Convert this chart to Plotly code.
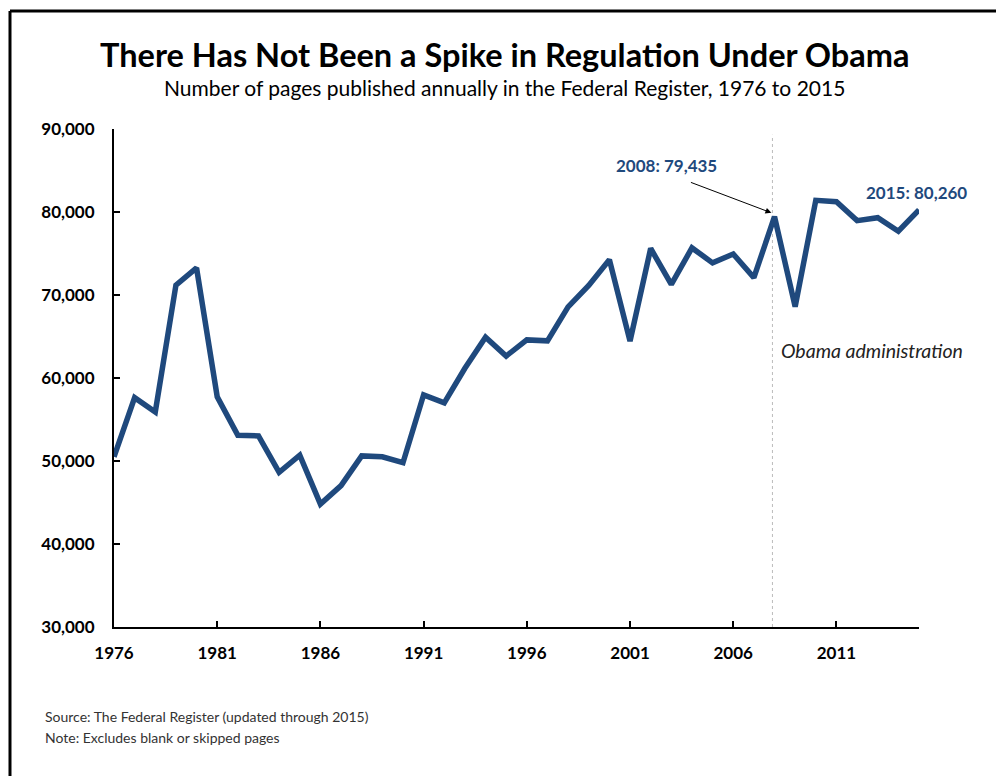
import plotly.graph_objects as go

# Federal Register pages published per year (excluding blank/skipped pages)
years = list(range(1976, 2016))
pages = [
    50505, 57630, 55907, 71191, 73258, 57736, 53104, 53018, 48643, 50693,
    44812, 47033, 50616, 50501, 49795, 57973, 57003, 61166, 64914, 62645,
    64591, 64481, 68571, 71161, 74258, 64438, 75606, 71269, 75675, 73870,
    74937, 72090, 79435, 68598, 81405, 81247, 78961, 79311, 77687, 80260,
]
tick_years = [1976, 1981, 1986, 1991, 1996, 2001, 2006, 2011]
tick_values = [30000, 40000, 50000, 60000, 70000, 80000, 90000]

LINE_BLUE = "#1F497D"
FONT = "Lato"

fig = go.Figure()
fig.add_trace(go.Scatter(
    x=years, y=pages, mode="lines",
    line=dict(color=LINE_BLUE, width=5.5),
    hoverinfo="x+y", showlegend=False,
))

# Start of the Obama administration
fig.add_shape(type="line", xref="x", yref="y",
              x0=2007.9, x1=2007.9, y0=30000, y1=89300,
              line=dict(color="#BBBBBB", width=1, dash="dot"), layer="below")

# Page frame: top and left rules
fig.add_shape(type="line", xref="paper", yref="paper",
              x0=-0.1292, x1=1.2, y0=1.2369, y1=1.2369,
              line=dict(color="black", width=3))
fig.add_shape(type="line", xref="paper", yref="paper",
              x0=-0.1292, x1=-0.1292, y0=1.2369, y1=-0.4,
              line=dict(color="black", width=3))

annotations = [
    dict(text="<b>There Has Not Been a Spike in Regulation Under Obama</b>",
         xref="paper", yref="paper", x=0.4845, y=1.1506,
         xanchor="center", yanchor="middle", showarrow=False,
         font=dict(family=FONT, size=32.5, color="black")),
    dict(text="Number of pages published annually in the Federal Register, 1976 to 2015",
         xref="paper", yref="paper", x=0.4845, y=1.0828,
         xanchor="center", yanchor="middle", showarrow=False,
         font=dict(family=FONT, size=21, color="black")),
    # arrow pointing at the 2008 value
    dict(text="", x=2007.85, y=79900, xref="x", yref="y",
         ax=-82, ay=-31, axref="pixel", ayref="pixel",
         showarrow=True, arrowhead=2, arrowsize=1.2, arrowwidth=1,
         arrowcolor="black"),
    dict(text="<b>2008: %s</b>" % f"{pages[years.index(2008)]:,}",
         x=2002.79, y=85660, xref="x", yref="y",
         xanchor="center", yanchor="middle", showarrow=False,
         font=dict(family=FONT, size=17, color=LINE_BLUE)),
    dict(text="<b>2015: %s</b>" % f"{pages[years.index(2015)]:,}",
         x=2014.86, y=82410, xref="x", yref="y",
         xanchor="center", yanchor="middle", showarrow=False,
         font=dict(family=FONT, size=17, color=LINE_BLUE)),
    dict(text="<i>Obama administration</i>",
         x=2012.7, y=63370, xref="x", yref="y",
         xanchor="center", yanchor="middle", showarrow=False,
         font=dict(family=FONT, size=19.5, color="#222222")),
    dict(text="Source: The Federal Register (updated through 2015)",
         xref="paper", yref="paper", x=-0.0882, y=-0.1788,
         xanchor="left", yanchor="middle", showarrow=False,
         font=dict(family=FONT, size=14, color="#333333")),
    dict(text="Note: Excludes blank or skipped pages",
         xref="paper", yref="paper", x=-0.0882, y=-0.2209,
         xanchor="left", yanchor="middle", showarrow=False,
         font=dict(family=FONT, size=14, color="#333333")),
]

fig.update_layout(
    width=996, height=776,
    margin=dict(l=114, r=77, t=129, b=149),
    paper_bgcolor="white", plot_bgcolor="white",
    annotations=annotations,
    xaxis=dict(
        range=[1976, 2015], tickvals=tick_years,
        ticktext=[f"<b>{y}</b>" for y in tick_years],
        showgrid=False, zeroline=False,
        showline=True, linecolor="black", linewidth=2,
        ticks="inside", ticklen=6, tickwidth=2, tickcolor="black",
        ticklabelstandoff=10,
        tickfont=dict(family=FONT, size=17, color="black"),
    ),
    yaxis=dict(
        range=[30000, 90000], tickvals=tick_values,
        ticktext=[f"<b>{v:,}</b>" for v in tick_values],
        showgrid=False, zeroline=False,
        showline=True, linecolor="black", linewidth=2,
        ticks="inside", ticklen=6, tickwidth=2, tickcolor="black",
        ticklabelstandoff=14,
        tickfont=dict(family=FONT, size=17, color="black"),
    ),
)

fig.write_html("out.html")
